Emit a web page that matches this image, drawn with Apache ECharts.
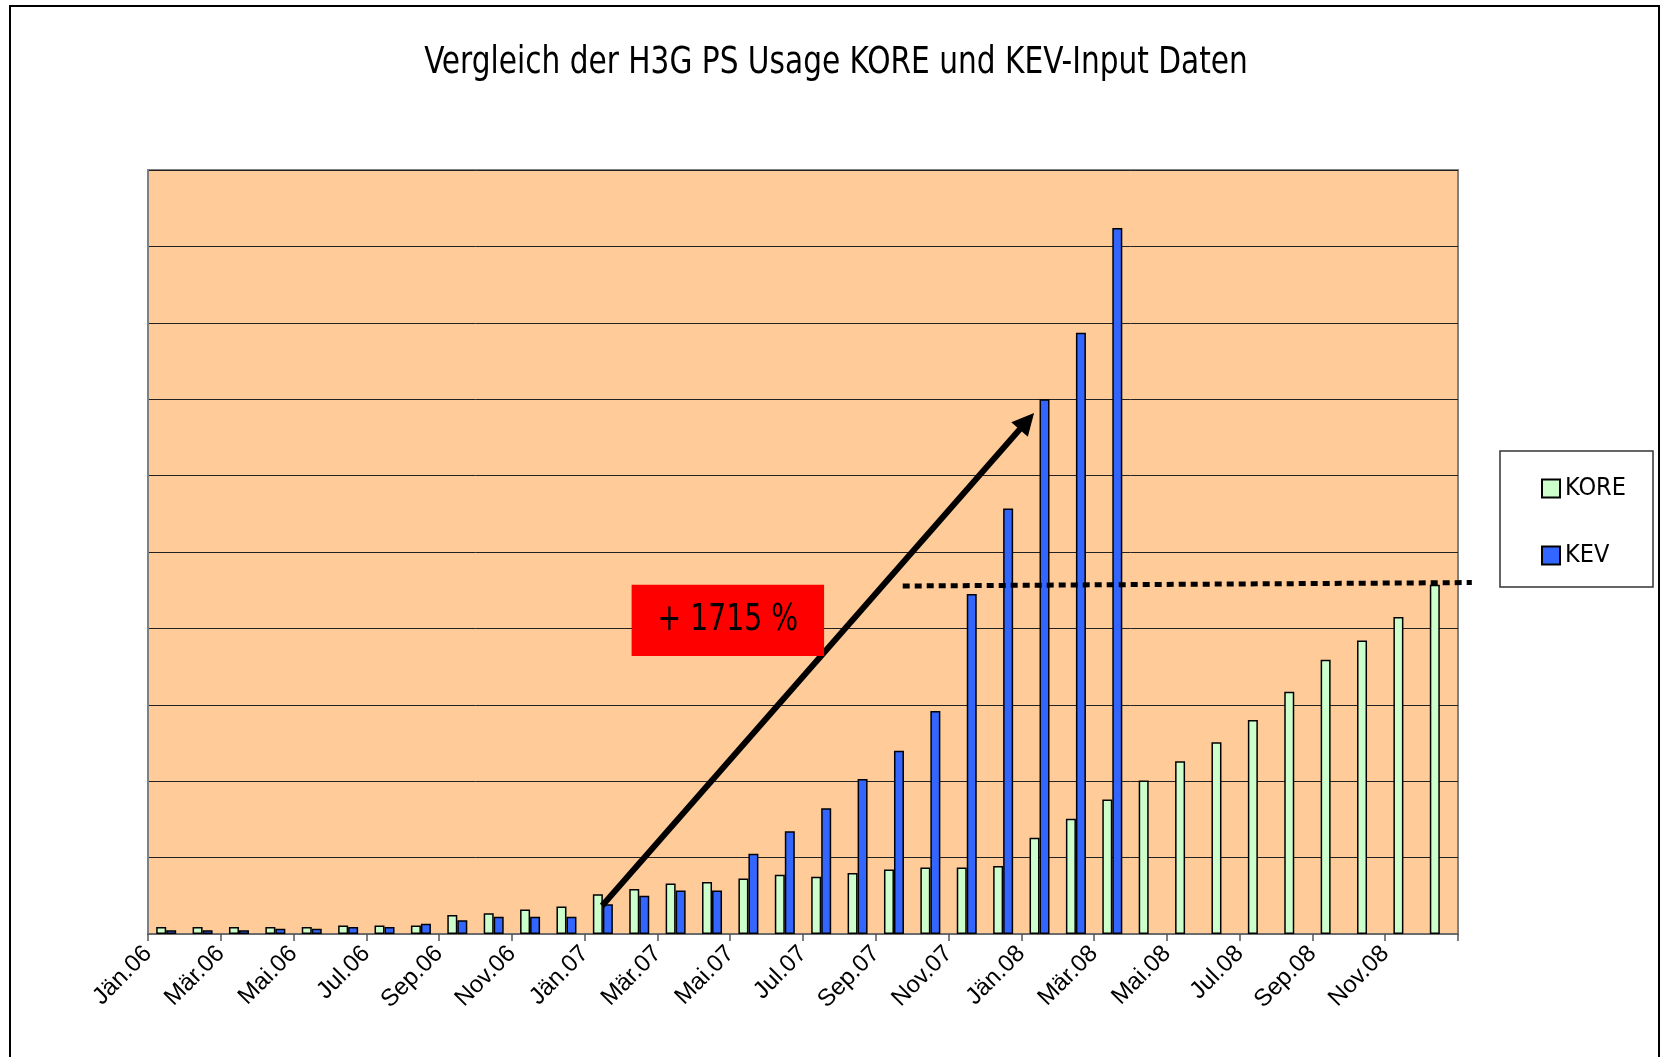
<!DOCTYPE html>
<html>
<head>
<meta charset="utf-8">
<title>Vergleich der H3G PS Usage KORE und KEV-Input Daten</title>
<script src="https://cdn.jsdelivr.net/npm/echarts@6/dist/echarts.min.js"></script>
<style>
  html, body { margin: 0; padding: 0; background: #fff; }
  #chart { width: 1661px; height: 1057px; }
</style>
</head>
<body>
<div id="chart"></div>
<script>
// Monate (Kategorien)
var months = [
  'Jän.06', 'Feb.06', 'Mär.06', 'Apr.06', 'Mai.06', 'Jun.06', 'Jul.06', 'Aug.06', 'Sep.06', 'Okt.06', 'Nov.06', 'Dez.06',
  'Jän.07', 'Feb.07', 'Mär.07', 'Apr.07', 'Mai.07', 'Jun.07', 'Jul.07', 'Aug.07', 'Sep.07', 'Okt.07', 'Nov.07', 'Dez.07',
  'Jän.08', 'Feb.08', 'Mär.08', 'Apr.08', 'Mai.08', 'Jun.08', 'Jul.08', 'Aug.08', 'Sep.08', 'Okt.08', 'Nov.08', 'Dez.08'
];

// KORE Werte
var kore = [
  0.09, 0.09, 0.09, 0.09, 0.09, 0.11, 0.11, 0.11, 0.25, 0.27, 0.32, 0.36,
  0.52, 0.59, 0.66, 0.68, 0.725, 0.777, 0.75, 0.80, 0.843, 0.87, 0.87, 0.89,
  1.26, 1.51, 1.76, 2.01, 2.26, 2.51, 2.80, 3.17, 3.59, 3.84, 4.15, 4.57
];

// KEV-Input Werte (ab Apr.08 keine Daten)
var kev = [
  0.05, 0.05, 0.05, 0.07, 0.07, 0.09, 0.09, 0.135, 0.18, 0.225, 0.225, 0.225,
  0.39, 0.50, 0.57, 0.57, 1.05, 1.345, 1.645, 2.03, 2.40, 2.92, 4.45, 5.57,
  7.00, 7.87, 9.24, null, null, null, null, null, null, null, null, null
];

// Annotationen in Achseneinheiten (Monatsposition, Wert)
var arrowFrom = [12.48, 0.37];
var arrowTo = [24.35, 6.82];
var boxFrom = [13.29, 4.57];
var boxTo = [18.58, 3.64];
var boxText = '+ 1715 %';
var dotFrom = [20.74, 4.555];
var dotTo = [36.38, 4.60];

var titleText = 'Vergleich der H3G PS Usage KORE und KEV-Input Daten';
var narrowFont = "'Liberation Sans Narrow', 'DejaVu Sans Condensed', 'Noto Sans', sans-serif";

var chart = echarts.init(document.getElementById('chart'), null, { renderer: 'canvas' });

var option = {
  backgroundColor: '#ffffff',
  animation: false,
  legend: {
    orient: 'vertical',
    left: 1541,
    top: 476,
    itemWidth: 18,
    itemHeight: 18,
    itemGap: 42,
    padding: 0,
    icon: 'rect',
    textStyle: {
      fontFamily: narrowFont,
      fontSize: 25,
      color: '#000'
    },
    data: ['KORE', 'KEV']
  },
  grid: {
    left: 148,
    top: 170,
    width: 1310,
    height: 764,
    show: true,
    backgroundColor: '#FFCC99',
    borderColor: '#808080',
    borderWidth: 2,
    containLabel: false
  },
  xAxis: [
    {
      type: 'category',
      data: months,
      boundaryGap: true,
      axisLine: { show: true, lineStyle: { color: '#6b6b6b', width: 2 } },
      axisTick: { show: false },
      axisLabel: { show: false },
      splitLine: { show: false }
    },
    {
      // Beschriftung an den Monatsgrenzen, wie im Original
      type: 'value',
      position: 'bottom',
      min: 0,
      max: months.length,
      interval: 2,
      axisLine: { show: false },
      axisTick: { show: true, length: 7, lineStyle: { color: '#555', width: 1.5 } },
      splitLine: { show: false },
      axisLabel: {
        show: true,
        rotate: 45,
        margin: 16,
        fontSize: 24,
        fontFamily: 'Arial, Liberation Sans, sans-serif',
        color: '#000',
        formatter: function (v) {
          return v < months.length ? months[v] : '';
        }
      }
    }
  ],
  yAxis: {
    type: 'value',
    min: 0,
    max: 10,
    interval: 1,
    axisLine: { show: true, lineStyle: { color: '#808080', width: 2 } },
    axisTick: { show: false },
    axisLabel: { show: false },
    splitLine: { show: true, lineStyle: { color: '#222', width: 1 } }
  },
  series: [
    {
      name: 'KORE',
      type: 'bar',
      xAxisIndex: 0,
      data: kore,
      barWidth: 10,
      barGap: '0%',
      itemStyle: { color: '#CCFFCC', borderColor: '#000', borderWidth: 1.5 }
    },
    {
      name: 'KEV',
      type: 'bar',
      xAxisIndex: 0,
      data: kev,
      barWidth: 10,
      barGap: '0%',
      itemStyle: { color: '#3366FF', borderColor: '#000', borderWidth: 1.5 }
    }
  ]
};

chart.setOption(option);

function px(p) {
  return [
    chart.convertToPixel({ xAxisIndex: 1 }, p[0]),
    chart.convertToPixel({ yAxisIndex: 0 }, p[1])
  ];
}

var a0 = px(arrowFrom);
var a1 = px(arrowTo);
var dx = a1[0] - a0[0], dy = a1[1] - a0[1];
var len = Math.sqrt(dx * dx + dy * dy);
var ux = dx / len, uy = dy / len;
var headLen = 22, headHalf = 11;
var hb = [a1[0] - ux * headLen, a1[1] - uy * headLen];
var b0 = px(boxFrom);
var b1 = px(boxTo);
var d0 = px(dotFrom);
var d1 = px(dotTo);

chart.setOption({
  graphic: [
    {
      // Titel (schmal gesetzt wie im Original)
      type: 'text',
      x: 836,
      y: 63,
      scaleX: 0.89,
      style: {
        text: titleText,
        fill: '#000',
        font: "37px " + narrowFont,
        align: 'center',
        verticalAlign: 'middle'
      }
    },
    {
      // äußerer Rahmen
      type: 'rect',
      shape: { x: 10, y: 6, width: 1649, height: 1200 },
      style: { fill: null, stroke: '#000', lineWidth: 2 },
      silent: true
    },
    {
      // Rahmen der Legende
      type: 'rect',
      shape: { x: 1500, y: 451, width: 153, height: 136 },
      style: { fill: null, stroke: '#333', lineWidth: 1.5 },
      silent: true
    },
    {
      type: 'polyline',
      shape: { points: [d0, d1] },
      style: { stroke: '#000', lineWidth: 5, lineDash: [7, 5] },
      z: 100
    },
    {
      type: 'line',
      shape: { x1: a0[0], y1: a0[1], x2: hb[0] + ux * 2, y2: hb[1] + uy * 2 },
      style: { stroke: '#000', lineWidth: 6 },
      z: 100
    },
    {
      type: 'polygon',
      shape: {
        points: [
          a1,
          [hb[0] - uy * headHalf, hb[1] + ux * headHalf],
          [hb[0] + uy * headHalf, hb[1] - ux * headHalf]
        ]
      },
      style: { fill: '#000' },
      z: 100
    },
    {
      type: 'rect',
      shape: { x: b0[0], y: b0[1], width: b1[0] - b0[0], height: b1[1] - b0[1] },
      style: { fill: '#FF0000' },
      z: 100
    },
    {
      type: 'text',
      x: (b0[0] + b1[0]) / 2,
      y: (b0[1] + b1[1]) / 2,
      scaleX: 0.85,
      style: {
        text: boxText,
        fill: '#000',
        font: "37px " + narrowFont,
        align: 'center',
        verticalAlign: 'middle'
      },
      z: 101
    }
  ]
});
</script>
</body>
</html>
